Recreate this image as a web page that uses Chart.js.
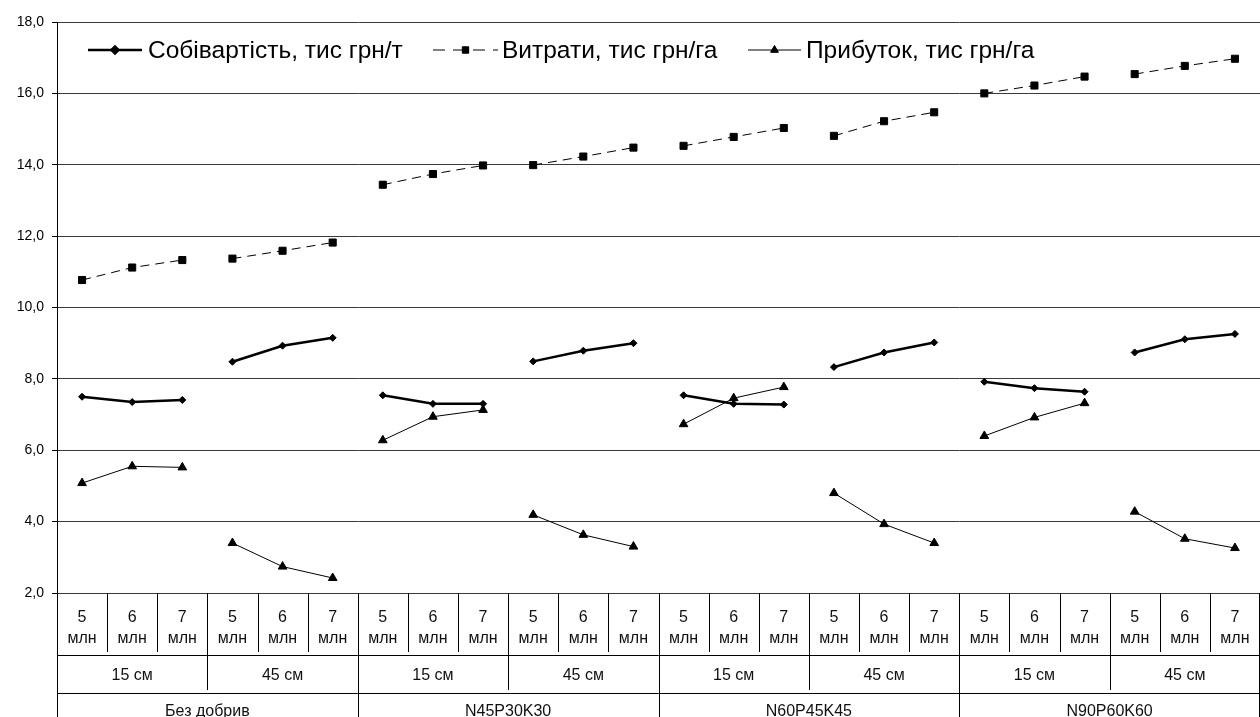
<!DOCTYPE html>
<html lang="uk">
<head>
<meta charset="utf-8">
<title>Собівартість, витрати та прибуток</title>
<script src="https://cdn.jsdelivr.net/npm/chart.js@4.4.1/dist/chart.umd.min.js"></script>
<style>
  html, body { margin: 0; padding: 0; background: #ffffff; }
  #wrap { position: relative; width: 1260px; height: 717px; }
</style>
</head>
<body>
<div id="wrap"><canvas id="chart" width="1260" height="717"></canvas></div>
<script>
// Category levels: seeding density, row spacing, fertilizer variant
const densities = ['5', '6', '7'];
const densityUnit = 'млн';
const spacings = ['15 см', '45 см'];
const fertilizers = ['Без добрив', 'N45P30K30', 'N60P45K45', 'N90P60K60'];

// Series values, one per category (24 categories)
const costPerTon = [7.50, 7.35, 7.41, 8.48, 8.93, 9.15,
                    7.54, 7.30, 7.30, 8.49, 8.79, 9.00,
                    7.54, 7.30, 7.28, 8.33, 8.74, 9.02,
                    7.92, 7.74, 7.64, 8.74, 9.11, 9.26];
const expensesPerHa = [10.77, 11.12, 11.33, 11.37, 11.59, 11.82,
                       13.44, 13.74, 13.98, 13.99, 14.23, 14.48,
                       14.53, 14.78, 15.03, 14.81, 15.22, 15.47,
                       16.00, 16.22, 16.47, 16.54, 16.77, 16.97];
const profitPerHa = [5.08, 5.55, 5.52, 3.40, 2.74, 2.42,
                     6.28, 6.94, 7.13, 4.19, 3.63, 3.30,
                     6.73, 7.46, 7.77, 4.80, 3.93, 3.40,
                     6.40, 6.92, 7.32, 4.28, 3.52, 3.26];

// Series names
const seriesNames = ['Собівартість, тис грн/т', 'Витрати, тис грн/га', 'Прибуток, тис грн/га'];

// Y axis range and tick step
const yMin = 2, yMax = 18, yStep = 2;

// Build flat category list
const categories = [];
fertilizers.forEach(f => spacings.forEach(s => densities.forEach(d => categories.push(d + ' ' + densityUnit))));

const FONT = "'Liberation Sans', Arial, sans-serif";
const INK = '#000000';

// Break each series between groups of three densities
const groupBreak = ctx => (ctx.p0DataIndex % densities.length === densities.length - 1) ? 'rgba(0,0,0,0)' : undefined;

// Legend drawn inside the plot, with line + marker samples
const legendPlugin = {
  id: 'lineLegend',
  afterDraw(chart) {
    const ctx = chart.ctx;
    const y = chart.chartArea.top + 28;
    const items = [
      { x0: 88, x1: 142, text: seriesNames[0], width: 2.5, dash: [], style: 'rectRot', r: 3.5, tx: 148 },
      { x0: 433, x1: 498, text: seriesNames[1], width: 1, dash: [12, 8], style: 'rect', r: 4.5, tx: 502 },
      { x0: 748, x1: 801, text: seriesNames[2], width: 1, dash: [], style: 'triangle', r: 4.5, tx: 806 }
    ];
    ctx.save();
    items.forEach(it => {
      ctx.strokeStyle = INK;
      ctx.lineWidth = it.width;
      ctx.setLineDash(it.dash);
      ctx.beginPath();
      ctx.moveTo(it.x0, y);
      ctx.lineTo(it.x1, y);
      ctx.stroke();
      ctx.setLineDash([]);
      ctx.fillStyle = INK;
      Chart.helpers.drawPoint(ctx, { pointStyle: it.style, radius: it.r, borderWidth: 1, rotation: 0 }, (it.x0 + it.x1) / 2, y);
      ctx.fill();
      ctx.font = '24.5px ' + FONT;
      ctx.textBaseline = 'middle';
      ctx.textAlign = 'left';
      ctx.fillText(it.text, it.tx, y + 1);
    });
    ctx.restore();
  }
};

// Three-level category table under the plot
const tablePlugin = {
  id: 'categoryTable',
  afterDraw(chart) {
    const ctx = chart.ctx;
    const xs = chart.scales.x;
    const area = chart.chartArea;
    const n = categories.length;
    const half = (xs.getPixelForValue(1) - xs.getPixelForValue(0)) / 2;
    const edge = k => (k < n ? xs.getPixelForValue(k) - half : xs.getPixelForValue(n - 1) + half);
    const top = area.bottom;
    const row1 = top + 62, row2 = top + 100, bottom = chart.height;
    ctx.save();
    ctx.strokeStyle = '#000';
    ctx.lineWidth = 1;
    ctx.beginPath();
    for (let k = 0; k <= n; k++) {
      const x = Math.min(Math.round(edge(k)), chart.width - 1) + 0.5;
      let yEnd = top + 59;
      if (k % 6 === 0) yEnd = bottom;
      else if (k % 3 === 0) yEnd = row2 - 3;
      ctx.moveTo(x, top);
      ctx.lineTo(x, yEnd);
    }
    ctx.moveTo(area.left, row1 + 0.5); ctx.lineTo(area.right, row1 + 0.5);
    ctx.moveTo(area.left, row2 + 0.5); ctx.lineTo(area.right, row2 + 0.5);
    ctx.stroke();

    ctx.fillStyle = '#111';
    ctx.textAlign = 'center';
    ctx.textBaseline = 'middle';
    ctx.font = '16px ' + FONT;
    for (let k = 0; k < n; k++) {
      const cx = xs.getPixelForValue(k);
      ctx.fillText(densities[k % 3], cx, top + 25);
      ctx.fillText(densityUnit, cx, top + 46);
    }
    for (let g = 0; g < n / 3; g++) {
      const cx = (edge(g * 3) + edge(g * 3 + 3)) / 2;
      ctx.fillText(spacings[g % 2], cx, row1 + 21);
    }
    for (let f = 0; f < fertilizers.length; f++) {
      const cx = (edge(f * 6) + edge(f * 6 + 6)) / 2;
      ctx.fillText(fertilizers[f], cx, row2 + 19);
    }
    ctx.restore();
  }
};

new Chart(document.getElementById('chart'), {
  type: 'line',
  data: {
    labels: categories,
    datasets: [
      {
        label: seriesNames[0],
        data: costPerTon,
        borderColor: INK, backgroundColor: INK,
        borderWidth: 2.5,
        pointStyle: 'rectRot', pointRadius: 3.5,
        pointBackgroundColor: INK, pointBorderColor: INK, pointBorderWidth: 1,
        segment: { borderColor: groupBreak }
      },
      {
        label: seriesNames[1],
        data: expensesPerHa,
        borderColor: INK, backgroundColor: INK,
        borderWidth: 1, borderDash: [9, 6],
        pointStyle: 'rect', pointRadius: 5,
        pointBackgroundColor: INK, pointBorderColor: INK, pointBorderWidth: 1,
        segment: { borderColor: groupBreak }
      },
      {
        label: seriesNames[2],
        data: profitPerHa,
        borderColor: INK, backgroundColor: INK,
        borderWidth: 1,
        pointStyle: 'triangle', pointRadius: 5,
        pointBackgroundColor: INK, pointBorderColor: INK, pointBorderWidth: 1,
        segment: { borderColor: groupBreak }
      }
    ]
  },
  options: {
    responsive: false,
    animation: false,
    layout: { autoPadding: false, padding: { top: 22, bottom: 124, left: 0, right: 0 } },
    plugins: { legend: { display: false }, tooltip: { enabled: false } },
    elements: { line: { tension: 0 } },
    scales: {
      x: {
        display: true,
        offset: true,
        ticks: { display: false },
        grid: { display: false, drawTicks: false },
        border: { display: false },
        afterFit(scale) { scale.height = 0; scale.paddingLeft = 0; scale.paddingRight = 0; }
      },
      y: {
        min: yMin, max: yMax,
        afterFit(scale) { scale.width = 57; },
        border: { display: true, color: INK, width: 1 },
        grid: { color: '#3a3a3a', lineWidth: 1, drawTicks: true, tickLength: 5, tickColor: INK },
        ticks: {
          stepSize: yStep, color: INK, padding: 8,
          font: { family: FONT, size: 14 },
          callback: v => v.toFixed(1).replace('.', ',')
        }
      }
    }
  },
  plugins: [legendPlugin, tablePlugin]
});
</script>
</body>
</html>
